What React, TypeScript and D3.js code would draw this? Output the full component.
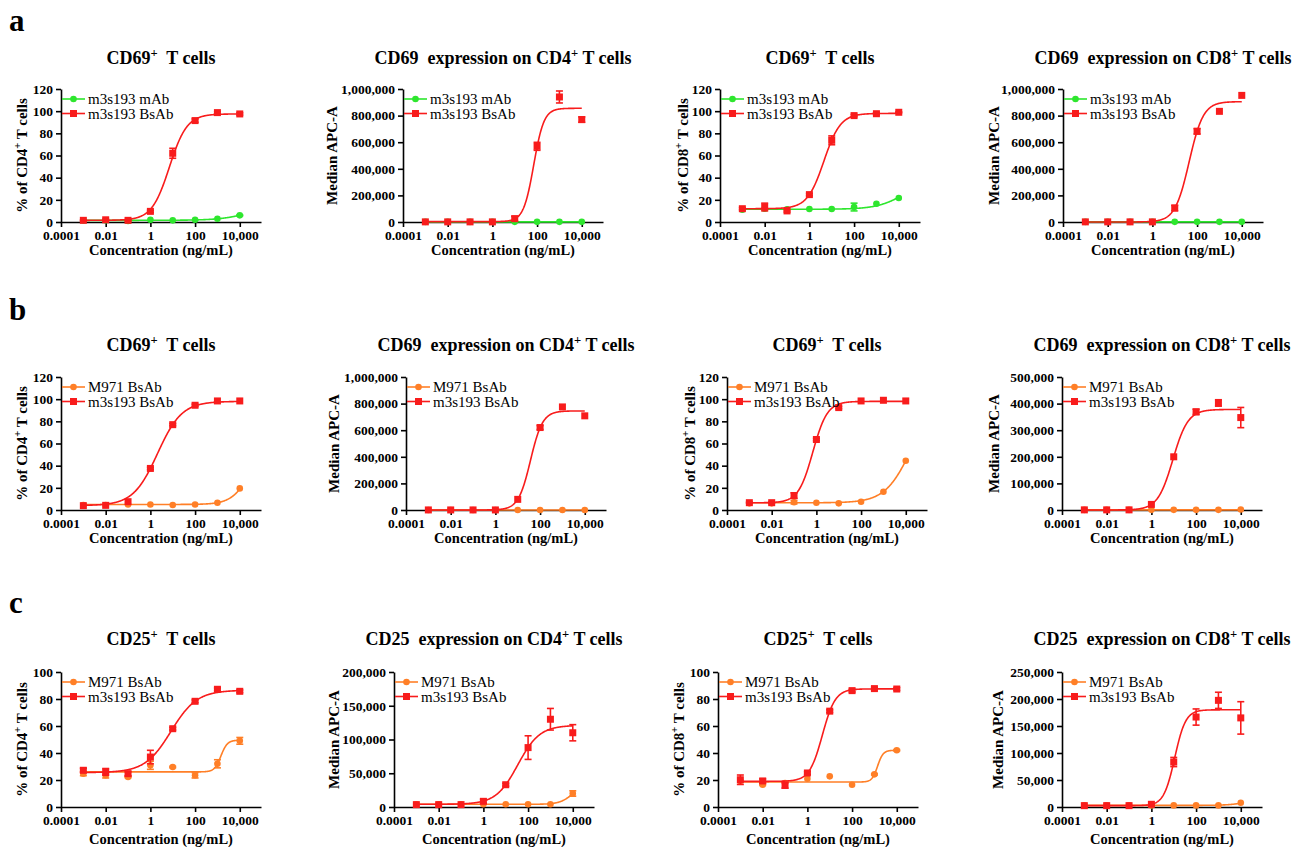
import * as React from "react";
import * as d3 from "d3";

// concentrations (ng/mL) used in every panel
const concentrations = [0.001, 0.01, 0.1, 1, 10, 100, 1000, 10000];
const xTicks = [0.0001, 0.01, 1, 100, 10000];
const xTickLabels = ["0.0001", "0.01", "1", "100", "10,000"];

const rowLetters = ["a", "b", "c"];
const titles = [
  ["CD69^+  T cells", "CD69  expression on CD4^+ T cells", "CD69^+  T cells", "CD69  expression on CD8^+ T cells"],
  ["CD69^+  T cells", "CD69  expression on CD4^+ T cells", "CD69^+  T cells", "CD69  expression on CD8^+ T cells"],
  ["CD25^+  T cells", "CD25  expression on CD4^+ T cells", "CD25^+  T cells", "CD25  expression on CD8^+ T cells"],
];
const yLabels = ["% of CD4^+ T cells", "Median APC-A", "% of CD8^+ T cells", "Median APC-A"];
const yMaxes = [
  [120, 1000000, 120, 1000000],
  [120, 1000000, 120, 500000],
  [100, 200000, 100, 250000],
];
const ySteps = [
  [20, 200000, 20, 200000],
  [20, 200000, 20, 100000],
  [20, 50000, 20, 50000],
];

const seriesNames = { mab: "m3s193 mAb", bs: "m3s193 BsAb", m971: "M971 BsAb" };
const colors = { mab: "#2ee62e", bs: "#f81c1c", m971: "#ff7f27" };

// values, error bars (half width), fit [bottom, top, logEC50, hill]
// row a
const a1Mab = [1.5, 1.5, 1, 2, 1.5, 2, 3, 6];
const a1MabErr = [0, 0, 0, 0, 0, 0, 0, 0.5];
const a1MabFit = [1.5, 25, 5, 0.6];
const a1Bs = [1.5, 2, 1.5, 9.6, 62, 91.5, 98.7, 97.5];
const a1BsErr = [0.5, 0.5, 0.5, 1, 4.5, 1.5, 1, 1];
const a1BsFit = [1.5, 97.5, 0.85, 1.1];

const a2Mab = [1000, 1000, 1000, 1000, 1000, 1000, 1000, 1000];
const a2MabErr = [0, 0, 0, 0, 0, 0, 0, 0];
const a2MabFit = [1000, 1000, 0, 1];
const a2Bs = [1000, 1000, 1000, 1000, 25000, 569000, 940000, 770000];
const a2BsErr = [0, 0, 0, 0, 18000, 30000, 45000, 20000];
const a2BsFit = [3000, 855000, 1.85, 1.9];

const a3Mab = [11, 12, 11.5, 11.7, 11.7, 13.5, 16.5, 21.6];
const a3MabErr = [0, 0, 0, 0, 0, 3.5, 0, 0];
const a3MabFit = [11.5, 40, 4.3, 0.7];
const a3Bs = [12, 13.5, 10, 24.7, 73.7, 96, 97.7, 99];
const a3BsErr = [1, 3.5, 1, 1, 4, 1, 1, 0.5];
const a3BsFit = [12, 98, 0.65, 1.17];

const a4Mab = [1000, 1000, 1000, 1000, 1000, 1000, 1000, 1000];
const a4MabErr = [0, 0, 0, 0, 0, 0, 0, 0];
const a4MabFit = [1000, 1000, 0, 1];
const a4Bs = [1000, 1000, 1000, 1000, 105000, 682000, 832000, 952000];
const a4BsErr = [0, 0, 0, 0, 20000, 20000, 0, 0];
const a4BsFit = [0, 905000, 1.645, 1.37];

// row b
const b1M971 = [4.5, 4.5, 5, 5, 4.5, 5, 6.5, 19.5];
const b1M971Err = [0, 0, 0, 0, 0, 0, 0, 0];
const b1M971Fit = [5, 60, 4.45, 1.05];
const b1Bs = [3.9, 4.2, 7.5, 37.5, 77, 94.5, 98.4, 98.4];
const b1BsErr = [0, 0, 0, 1, 1, 1, 0, 0];
const b1BsFit = [4, 98, 0.32, 0.8];

const b2M971 = [500, 500, 500, 500, 500, 500, 500, 500];
const b2M971Err = [0, 0, 0, 0, 0, 0, 0, 0];
const b2M971Fit = [500, 500, 0, 1];
const b2Bs = [500, 500, 500, 500, 80000, 620000, 775000, 708000];
const b2BsErr = [0, 0, 0, 0, 0, 15000, 0, 0];
const b2BsFit = [0, 745000, 1.57, 1.6];

const b3M971 = [6, 6, 7, 6.6, 6, 7.5, 16.5, 44.4];
const b3M971Err = [0, 0, 1.5, 0, 0, 0, 0, 0];
const b3M971Fit = [6.5, 100, 4.22, 0.75];
const b3Bs = [6.6, 6.6, 13, 63.6, 92.4, 98.4, 99, 98.4];
const b3BsErr = [0.5, 0.5, 2.5, 1, 1, 0, 0, 0];
const b3BsFit = [6.5, 98, -0.16, 1.34];

const b4M971 = [500, 500, 500, 500, 500, 500, 500, 2000];
const b4M971Err = [0, 0, 0, 0, 0, 0, 0, 0];
const b4M971Fit = [500, 500, 0, 1];
const b4Bs = [500, 500, 500, 21000, 200000, 369000, 402500, 347500];
const b4BsErr = [0, 0, 0, 0, 0, 10000, 12000, 38000];
const b4BsFit = [0, 378000, 0.96, 1.28];

// row c
const c1M971 = [24.7, 23.5, 22.2, 30.9, 29.6, 23.5, 32, 49];
const c1M971Err = [1.5, 2, 0.5, 3, 0.5, 2, 3, 2.5];
const c1M971Fit = [26, 49.5, 3.155, 3];
const c1Bs = [27.2, 26, 24.7, 37, 58, 78.3, 87.2, 85.7];
const c1BsErr = [1.5, 2.5, 1.5, 5, 1, 1, 1, 1];
const c1BsFit = [25.5, 86.5, 0.92, 0.75];

const c2M971 = [4000, 4000, 4000, 4000, 4000, 4000, 4000, 20000];
const c2M971Err = [0, 0, 0, 0, 0, 0, 0, 4000];
const c2M971Fit = [4000, 35000, 4.0, 1.5];
const c2Bs = [3500, 3500, 3500, 8400, 33000, 88000, 130000, 110000];
const c2BsErr = [0, 0, 0, 3000, 2000, 17500, 16000, 12000];
const c2BsFit = [4000, 121000, 1.54, 0.89];

const c3M971 = [19.3, 16.5, 17.8, 21, 22.7, 16.5, 24.2, 42];
const c3M971Err = [0, 0.5, 0, 0, 0, 0, 0.5, 0.5];
const c3M971Fit = [18.5, 42, 3.14, 3.5];
const c3Bs = [20.2, 19.3, 16, 25.2, 71, 86.2, 87.7, 87.4];
const c3BsErr = [3.5, 1.5, 2, 1, 1, 1, 1, 1];
const c3BsFit = [19, 87.5, 0.67, 1.5];

const c4M971 = [3000, 3000, 3000, 3000, 3000, 3000, 3000, 8000];
const c4M971Err = [0, 0, 0, 0, 0, 0, 0, 0];
const c4M971Fit = [3000, 20000, 4.5, 1];
const c4Bs = [2500, 2500, 2500, 5000, 83300, 166600, 197500, 165000];
const c4BsErr = [0, 0, 0, 0, 8500, 15000, 15000, 30000];
const c4BsFit = [2500, 180000, 1.045, 1.77];

const series = [
  [
    [["mab", a1Mab, a1MabErr, a1MabFit], ["bs", a1Bs, a1BsErr, a1BsFit]],
    [["mab", a2Mab, a2MabErr, a2MabFit], ["bs", a2Bs, a2BsErr, a2BsFit]],
    [["mab", a3Mab, a3MabErr, a3MabFit], ["bs", a3Bs, a3BsErr, a3BsFit]],
    [["mab", a4Mab, a4MabErr, a4MabFit], ["bs", a4Bs, a4BsErr, a4BsFit]],
  ],
  [
    [["m971", b1M971, b1M971Err, b1M971Fit], ["bs", b1Bs, b1BsErr, b1BsFit]],
    [["m971", b2M971, b2M971Err, b2M971Fit], ["bs", b2Bs, b2BsErr, b2BsFit]],
    [["m971", b3M971, b3M971Err, b3M971Fit], ["bs", b3Bs, b3BsErr, b3BsFit]],
    [["m971", b4M971, b4M971Err, b4M971Fit], ["bs", b4Bs, b4BsErr, b4BsFit]],
  ],
  [
    [["m971", c1M971, c1M971Err, c1M971Fit], ["bs", c1Bs, c1BsErr, c1BsFit]],
    [["m971", c2M971, c2M971Err, c2M971Fit], ["bs", c2Bs, c2BsErr, c2BsFit]],
    [["m971", c3M971, c3M971Err, c3M971Fit], ["bs", c3Bs, c3BsErr, c3BsFit]],
    [["m971", c4M971, c4M971Err, c4M971Fit], ["bs", c4Bs, c4BsErr, c4BsFit]],
  ],
];

// layout
const FONT = "'Liberation Serif', 'Times New Roman', serif";
const axisXs = [
  [61, 403, 720, 1063],
  [61, 406, 727, 1062],
  [61, 394, 718, 1062],
];
const rowTop = [89, 377, 672];
const rowBottom = [222, 510, 807];
const titleY = [64, 351, 645];
const letterY = [31, 320, 613];
const xLabelDy = [33, 33, 37];
const yLabelDx = [
  [37, 69, 35, 67],
  [37, 70, 35, 66],
  [37, 58, 37, 62],
];
const AXIS_LEN = 200;

function addSupText(sel, text) {
  const parts = text.split("^+");
  parts.forEach((p, i) => {
    if (p) sel.append("tspan").attr("baseline-shift", "0").text(p);
    if (i < parts.length - 1)
      sel.append("tspan").attr("baseline-shift", "super").attr("font-size", "70%").text("+");
  });
}

function drawPanel(svg, r, c) {
  const ax = axisXs[r][c], top = rowTop[r], bottom = rowBottom[r];
  const x = d3.scaleLog().domain([1e-4, Math.pow(10, 4.95)]).range([ax, ax + AXIS_LEN]);
  const y = d3.scaleLinear().domain([0, yMaxes[r][c]]).range([bottom, top]);
  const g = svg.append("g");

  const t = g.append("text")
    .attr("x", ax + AXIS_LEN / 2).attr("y", titleY[r])
    .attr("text-anchor", "middle").attr("font-weight", "bold").attr("font-size", 18)
    .style("white-space", "pre");
  addSupText(t, titles[r][c]);

  const xa = g.append("g")
    .attr("transform", `translate(0,${bottom})`)
    .call(d3.axisBottom(x).tickValues(xTicks)
      .tickFormat(d => xTickLabels[xTicks.indexOf(d)])
      .tickSize(5).tickSizeOuter(0));
  const ya = g.append("g")
    .attr("transform", `translate(${ax},0)`)
    .call(d3.axisLeft(y).tickValues(d3.range(0, yMaxes[r][c] + 1, ySteps[r][c]))
      .tickFormat(d3.format(",")).tickSize(5).tickSizeOuter(0));
  [xa, ya].forEach(a => {
    a.attr("font-family", FONT).attr("font-size", 13.5).attr("font-weight", "bold");
    a.selectAll("path, line").attr("stroke", "#000").attr("stroke-width", 1.6);
    a.selectAll("text").attr("fill", "#000");
  });

  g.append("text")
    .attr("x", ax + AXIS_LEN / 2).attr("y", bottom + xLabelDy[r])
    .attr("text-anchor", "middle").attr("font-weight", "bold").attr("font-size", 14.5)
    .text("Concentration (ng/mL)");

  const yl = g.append("text")
    .attr("transform", `translate(${ax - yLabelDx[r][c]},${(top + bottom) / 2}) rotate(-90)`)
    .attr("text-anchor", "middle").attr("dominant-baseline", "middle")
    .attr("font-weight", "bold").attr("font-size", 15);
  addSupText(yl, yLabels[c]);

  const logs = d3.range(-3, 4.0001, 0.02);
  series[r][c].forEach(([key, vals, errs, fit]) => {
    const color = colors[key];
    const [lo, hi, ec, h] = fit;
    const curve = logs.map(l => [Math.pow(10, l), lo + (hi - lo) / (1 + Math.pow(10, (ec - l) * h))]);
    g.append("path")
      .attr("d", d3.line().x(d => x(d[0])).y(d => y(d[1]))(curve))
      .attr("fill", "none").attr("stroke", color).attr("stroke-width", 1.6);

    const pts = concentrations.map((cc, i) => ({ c: cc, v: vals[i], e: errs[i] }));
    const eb = g.append("g").attr("stroke", color).attr("stroke-width", 1.6);
    pts.filter(d => d.e > 0).forEach(d => {
      const px = x(d.c);
      eb.append("line").attr("x1", px).attr("x2", px).attr("y1", y(d.v - d.e)).attr("y2", y(d.v + d.e));
      eb.append("line").attr("x1", px - 3.5).attr("x2", px + 3.5).attr("y1", y(d.v - d.e)).attr("y2", y(d.v - d.e));
      eb.append("line").attr("x1", px - 3.5).attr("x2", px + 3.5).attr("y1", y(d.v + d.e)).attr("y2", y(d.v + d.e));
    });
    if (key === "bs") {
      g.selectAll(null).data(pts).enter().append("rect")
        .attr("x", d => x(d.c) - 3.5).attr("y", d => y(d.v) - 3.5)
        .attr("width", 7).attr("height", 7).attr("fill", color);
    } else {
      g.selectAll(null).data(pts).enter().append("circle")
        .attr("cx", d => x(d.c)).attr("cy", d => y(d.v)).attr("r", 3.3).attr("fill", color);
    }
  });

  // legend
  series[r][c].forEach(([key], i) => {
    const ly = top + 10 + i * 14.5;
    const color = colors[key];
    g.append("line").attr("x1", ax + 1).attr("x2", ax + 24).attr("y1", ly).attr("y2", ly)
      .attr("stroke", color).attr("stroke-width", 1.6);
    if (key === "bs") {
      g.append("rect").attr("x", ax + 9).attr("y", ly - 3.5).attr("width", 7).attr("height", 7).attr("fill", color);
    } else {
      g.append("circle").attr("cx", ax + 12.5).attr("cy", ly).attr("r", 3.3).attr("fill", color);
    }
    g.append("text").attr("x", ax + 27).attr("y", ly + 5)
      .attr("font-size", 15).text(seriesNames[key]);
  });
}

export default function App() {
  const ref = React.useRef(null);

  React.useEffect(() => {
    const svg = d3.select(ref.current);
    svg.selectAll("*").remove();
    svg.attr("font-family", FONT).attr("fill", "#000");
    svg.append("rect").attr("width", 1305).attr("height", 847).attr("fill", "#fff");
    rowLetters.forEach((l, r) => {
      svg.append("text").attr("x", 9).attr("y", letterY[r])
        .attr("font-size", 31).attr("font-weight", "bold").text(l);
      for (let c = 0; c < 4; c++) drawPanel(svg, r, c);
    });
  }, []);

  return (
    <svg ref={ref} width={1305} height={847}
      style={{ position: "absolute", left: 0, top: 0, display: "block" }} />
  );
}
